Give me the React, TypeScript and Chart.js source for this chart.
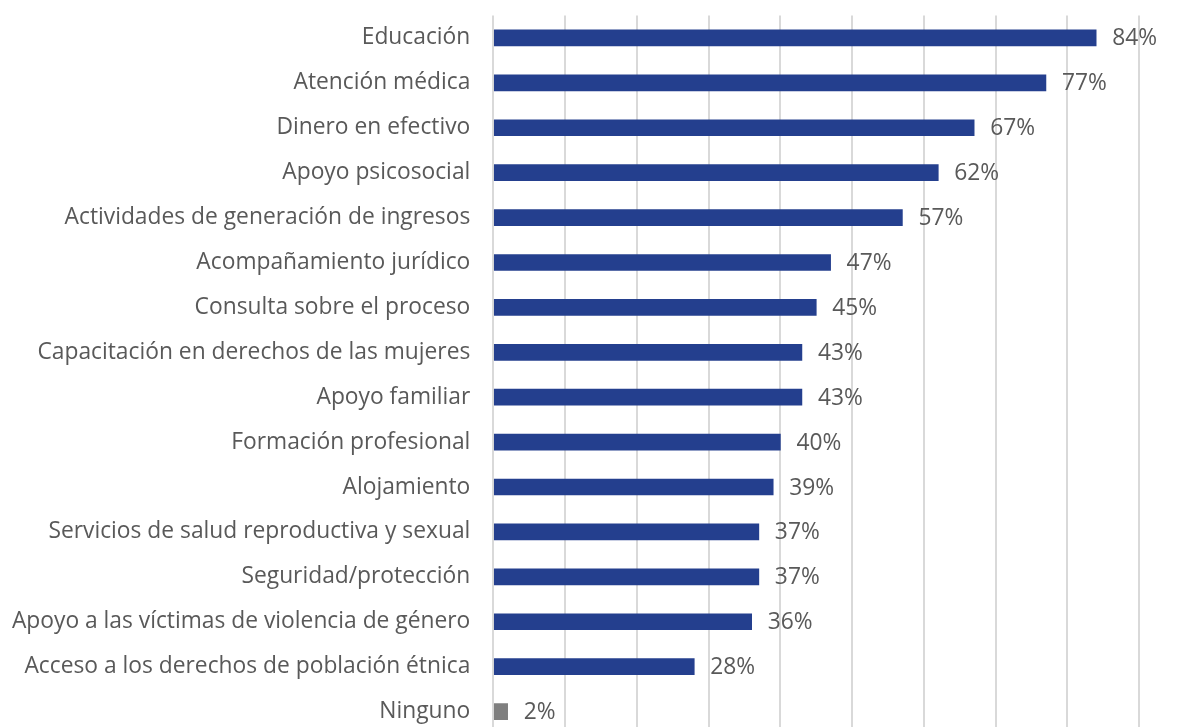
import React, { useEffect, useRef } from "react";
import { Chart, registerables } from "chart.js";

Chart.register(...registerables);

const categories = [
  "Educación",
  "Atención médica",
  "Dinero en efectivo",
  "Apoyo psicosocial",
  "Actividades de generación de ingresos",
  "Acompañamiento jurídico",
  "Consulta sobre el proceso",
  "Capacitación en derechos de las mujeres",
  "Apoyo familiar",
  "Formación profesional",
  "Alojamiento",
  "Servicios de salud reproductiva y sexual",
  "Seguridad/protección",
  "Apoyo a las víctimas de violencia de género",
  "Acceso a los derechos de población étnica",
  "Ninguno",
];
const values = [84, 77, 67, 62, 57, 47, 45, 43, 43, 40, 39, 37, 37, 36, 28, 2];
const valueLabels = ["84%", "77%", "67%", "62%", "57%", "47%", "45%", "43%", "43%", "40%", "39%", "37%", "37%", "36%", "28%", "2%"];
const barColors = values.map((_, i) => (i === values.length - 1 ? "#7f7f7f" : "#243f8e"));

const FONT = "'Open Sans', sans-serif";
const FONT_SIZE = 22.8;
const TEXT_COLOR = "#595959";

const labelPlugin = {
  id: "valueLabels",
  afterDatasetsDraw(chart: any) {
    const ctx = chart.ctx;
    const meta = chart.getDatasetMeta(0);
    ctx.save();
    ctx.font = `${FONT_SIZE}px ${FONT}`;
    ctx.fillStyle = TEXT_COLOR;
    ctx.textAlign = "left";
    ctx.textBaseline = "middle";
    meta.data.forEach((bar: any, i: number) => {
      ctx.fillText(valueLabels[i], bar.x + 16, bar.y + 1);
    });
    ctx.restore();
  },
};

export default function App() {
  const ref = useRef<HTMLCanvasElement | null>(null);
  useEffect(() => {
    if (!ref.current) return;
    const chart = new Chart(ref.current, {
      type: "bar",
      data: {
        labels: categories,
        datasets: [
          {
            data: values,
            backgroundColor: barColors,
            barThickness: 16,
          },
        ],
      },
      options: {
        indexAxis: "y",
        animation: false,
        responsive: false,
        maintainAspectRatio: false,
        layout: { padding: { top: 15.5, right: 1, bottom: 0, left: 0 } },
        plugins: { legend: { display: false }, tooltip: { enabled: false } },
        scales: {
          x: {
            min: 0,
            max: 100,
            ticks: { display: false, stepSize: 10 },
            grid: { color: "#d9d9d9", lineWidth: 2, drawTicks: false },
            border: { display: false },
          },
          y: {
            afterFit: (s: any) => {
              s.width = 493.3;
              s.paddingTop = 0;
              s.paddingBottom = 0;
            },
            ticks: {
              color: TEXT_COLOR,
              font: { family: FONT, size: FONT_SIZE },
              padding: 23,
            },
            grid: { display: false, drawTicks: false },
            border: { display: false },
          },
        },
      },
      plugins: [labelPlugin],
    });
    return () => chart.destroy();
  }, []);
  return (
    <div style={{ position: "fixed", left: 0, top: 0, width: 1198, height: 727, overflow: "hidden", background: "#fff" }}>
      <canvas ref={ref} width={1212} height={734} style={{ display: "block" }} />
    </div>
  );
}
